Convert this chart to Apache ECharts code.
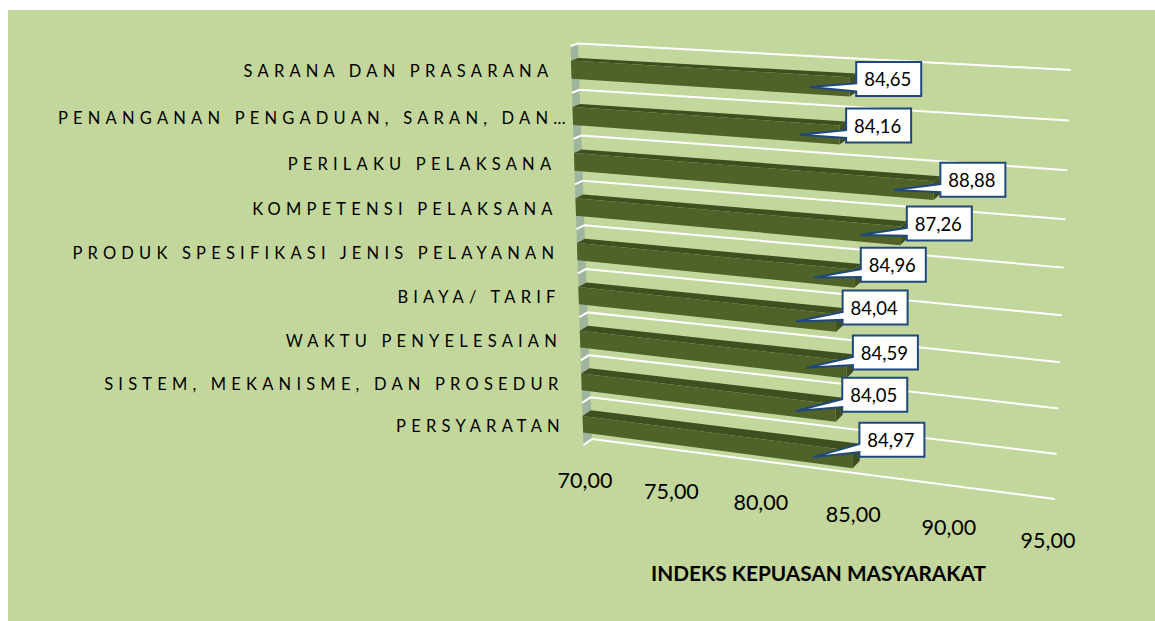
<!DOCTYPE html>
<html><head><meta charset="utf-8">
<style>
html,body{margin:0;padding:0;background:#fff}
#main{width:1155px;height:621px}
text[style*="16.51px"]{letter-spacing:5.2px}
</style>
<script src="https://cdn.jsdelivr.net/npm/echarts@6/dist/echarts.min.js"></script>
</head><body><div id="main"></div>
<script>
const categories=["SARANA DAN PRASARANA","PENANGANAN PENGADUAN, SARAN, DAN…","PERILAKU PELAKSANA","KOMPETENSI PELAKSANA","PRODUK SPESIFIKASI JENIS PELAYANAN","BIAYA/ TARIF","WAKTU PENYELESAIAN","SISTEM, MEKANISME, DAN PROSEDUR","PERSYARATAN"];
const values=[84.65,84.16,88.88,87.26,84.96,84.04,84.59,84.05,84.97];
const xTicks=[70,75,80,85,90,95];
const axisTitle="INDEKS KEPUASAN MASYARAKAT";

const G={left:100,top:50,width:900,height:450};
const FONT="Lato";
function homography(q){
  const [x0,y0]=q[0],[x1,y1]=q[1],[x2,y2]=q[2],[x3,y3]=q[3];
  const dx1=x1-x2,dx2=x3-x2,sx=x0-x1+x2-x3,dy1=y1-y2,dy2=y3-y2,sy=y0-y1+y2-y3;
  const den=dx1*dy2-dx2*dy1,g=(sx*dy2-dx2*sy)/den,h=(dx1*sy-sx*dy1)/den;
  const a=x1-x0+g*x1,b=x3-x0+h*x3,d=y1-y0+g*y1,e=y3-y0+h*y3;
  return (u,t)=>{const w=g*u+h*t+1;return [(a*u+b*t+x0)/w,(d*u+e*t+y0)/w];};
}
const backPlane=homography([[578,43.5],[1071,70],[1055,499],[592,439]]);
const frontPlane=homography([[570.5,46],[1066.5,74.5],[1049.5,508],[583.5,445]]);
// value + fractional row position -> perspective pixel, via the axes' own scales
function proj(api,plane,v,row){
  const c=api.coord([v,0]),band=Math.abs(api.size([0,1])[1]);
  const y=c[1]+(row-.5)*band;
  return plane((c[0]-G.left)/G.width,(y-G.top)/G.height);
}
const fmt=v=>v.toFixed(2).replace('.',',');
const F0=.31,F1=.70;

function renderFrame(p,api){
  const n=categories.length,ch=[];
  const A=proj(api,backPlane,70,0),B=proj(api,backPlane,70,n),C=proj(api,frontPlane,70,n),D=proj(api,frontPlane,70,0);
  ch.push({type:'polygon',shape:{points:[A,B,C,D]},style:{fill:'#9fb59d'}});
  for(let k=0;k<=n;k++){
    ch.push({type:'polyline',shape:{points:[proj(api,frontPlane,70,k),proj(api,backPlane,70,k),proj(api,backPlane,95,k)]},style:{fill:'none',stroke:'#fff',lineWidth:2}});
  }
  return {type:'group',children:ch};
}
function renderBar(p,api){
  const v=api.value(0),r=api.value(1);
  const a=proj(api,frontPlane,70,r+F0),b=proj(api,frontPlane,v,r+F0),c=proj(api,frontPlane,v,r+F1),d=proj(api,frontPlane,70,r+F1);
  const e=proj(api,backPlane,70,r+F0),f=proj(api,backPlane,v,r+F0),g=proj(api,backPlane,v,r+F1);
  return {type:'group',children:[
    {type:'polygon',shape:{points:[e,f,b,a]},style:{fill:'#3f4f20'}},
    {type:'polygon',shape:{points:[b,f,g,c]},style:{fill:'#3f4f20'}},
    {type:'polygon',shape:{points:[a,b,c,d]},style:{fill:'#4f6228'}}
  ]};
}
function renderCallout(p,api){
  const v=api.value(0),r=api.value(1),n=categories.length-1;
  const end=proj(api,frontPlane,v,r+(F0+F1)/2);
  const L=end[0]+6.5,W=65,H=34,cy=end[1]-8-12*r/n,T=cy-H/2;
  const tip=[end[0]-40,end[1]-2.5*r/n];
  const by=T+H*.63;
  return {type:'group',children:[
    {type:'polygon',shape:{points:[[L,T],[L+W,T],[L+W,T+H],[L,T+H],[L,by+8],tip,[L,by]]},style:{fill:'#fff',stroke:'#1f497d',lineWidth:2,lineJoin:'miter'}},
    {type:'text',style:{text:fmt(v),x:L+W/2-1,y:cy+.5,align:'center',verticalAlign:'middle',fontFamily:FONT,fontSize:18.5,fill:'#000'}}
  ]};
}
function renderCat(p,api){
  const r=api.value(1),pt=proj(api,frontPlane,70,r+.5);
  const x=pt[0]-18+(categories[r].endsWith('…')?16:0);
  return {type:'text',style:{text:categories[r],x,y:pt[1]+2,align:'right',verticalAlign:'middle',fontFamily:FONT,fontSize:16.51,fill:'#000'}};
}
function renderTick(p,api){
  const v=api.value(0),pt=proj(api,backPlane,v,categories.length);
  return {type:'text',style:{text:fmt(v),x:pt[0]-7,y:pt[1]+40.5,align:'center',verticalAlign:'middle',fontFamily:FONT,fontSize:21.5,fill:'#000'}};
}
const barData=values.map((v,i)=>[v,categories[i]]);
const chart=echarts.init(document.getElementById('main'),null,{renderer:'svg'});
chart.setOption({
  animation:false,
  backgroundColor:'#fff',
  title:{text:axisTitle,left:651,top:562,padding:0,textStyle:{fontFamily:FONT,fontWeight:'bold',fontSize:20.8,color:'#000'}},
  graphic:[{type:'rect',z:-10,silent:true,shape:{x:8,y:10,width:1147,height:611},style:{fill:'#c3d69b'}}],
  grid:{left:G.left,top:G.top,width:G.width,height:G.height},
  xAxis:{type:'value',min:70,max:95,interval:5,show:false},
  yAxis:{type:'category',data:categories,inverse:true,show:false},
  series:[
    {type:'custom',name:'frame',renderItem:renderFrame,data:[[70,categories[0]]],encode:{x:0,y:1},silent:true,z:1},
    {type:'custom',name:'labels',renderItem:renderCat,data:barData,encode:{x:0,y:1},silent:true,z:2},
    {type:'custom',name:'ticks',renderItem:renderTick,data:xTicks.map(v=>[v,categories[0]]),encode:{x:0,y:1},silent:true,z:2},
    {type:'custom',name:'bars',renderItem:renderBar,data:barData,encode:{x:0,y:1},silent:true,z:3},
    {type:'custom',name:'callouts',renderItem:renderCallout,data:barData,encode:{x:0,y:1},silent:true,z:4}
  ]
});
</script></body></html>
